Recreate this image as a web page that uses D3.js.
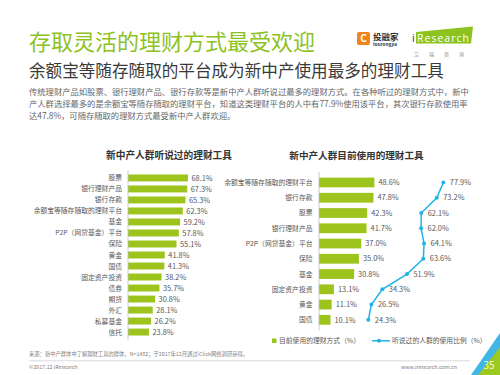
<!DOCTYPE html>
<html>
<head>
<meta charset="utf-8">
<script src="https://cdn.jsdelivr.net/npm/d3@7"></script>
<style>
  body { margin: 0; background: #fff; }
  svg { display: block; font-family: "Noto Sans CJK SC", "Noto Sans", sans-serif; }
</style>
</head>
<body>
<svg id="chart" width="500" height="375"></svg>
<script>
// 听说过的理财工具
const heardTools = ["股票", "银行理财产品", "银行存款", "余额宝等随存随取的理财平台", "基金", "P2P（网贷基金）平台", "保险", "黄金", "国债", "固定资产投资", "债券", "期货", "外汇", "私募基金", "信托"];
const heardValues = [68.1, 67.3, 65.3, 62.3, 59.2, 57.8, 55.1, 41.8, 41.3, 38.2, 35.7, 30.8, 28.1, 26.2, 23.8];

// 目前使用的理财工具
const usedTools = ["余额宝等随存随取的理财平台", "银行存款", "股票", "银行理财产品", "P2P（网贷基金）平台", "保险", "基金", "固定资产投资", "黄金", "国债"];
const usedValues = [48.6, 47.8, 42.3, 41.7, 37.0, 35.0, 30.8, 13.1, 11.1, 10.1];
const usageRate = [77.9, 73.2, 62.1, 62.0, 64.1, 63.6, 51.9, 34.3, 26.5, 24.3];

const paragraph = [
  "传统理财产品如股票、银行理财产品、银行存款等是新中产人群听说过最多的理财方式。在各种听过的理财方式中，新中",
  "产人群选择最多的是余额宝等随存随取的理财平台，知道这类理财平台的人中有77.9%使用该平台，其次银行存款使用率",
  "达47.8%，可随存随取的理财方式最受新中产人群欢迎。"
];

const green = "#9dc41d";
const blue = "#22b3e6";
const grey = "#595959";

const svg = d3.select("#chart");

// 标题
svg.append("text").attr("x", 29).attr("y", 49.5)
  .attr("font-size", 22).attr("fill", "#8dc21f")
  .text("存取灵活的理财方式最受欢迎");
svg.append("text").attr("x", 29).attr("y", 76.5)
  .attr("font-size", 16.6).attr("fill", "#3a3a3a")
  .text("余额宝等随存随取的平台成为新中产使用最多的理财工具");

svg.append("g").selectAll("text").data(paragraph).enter().append("text")
  .attr("x", 29).attr("y", (d, i) => 95 + i * 11.8)
  .attr("font-size", 8.3).attr("fill", "#666")
  .text((d) => d);

// logo
const logo = svg.append("g");
logo.append("rect").attr("x", 357).attr("y", 32).attr("width", 13).attr("height", 13).attr("rx", 2).attr("fill", "#f08519");
logo.append("text").attr("x", 363.5).attr("y", 42.2).attr("text-anchor", "middle").attr("font-size", 10).attr("font-weight", "bold").attr("fill", "#fff").text("C");
logo.append("text").attr("x", 373).attr("y", 40).attr("font-size", 8.5).attr("font-weight", "bold").attr("fill", "#333").text("投融家");
logo.append("text").attr("x", 373).attr("y", 46).attr("font-size", 4.6).attr("font-weight", "bold").attr("fill", "#333").text("tourongjia");
logo.append("polygon").attr("points", "416,32 473,26.5 471,43.5 416,43.5").attr("fill", "#8dc21f");
logo.append("text").attr("x", 412).attr("y", 41.5).attr("font-size", 10.5).attr("fill", "#333").attr("font-family", "Open Sans, sans-serif").text("i");
logo.append("text").attr("x", 417).attr("y", 41.5).attr("font-size", 10.5).attr("fill", "#fff").attr("font-family", "Open Sans, sans-serif").attr("textLength", 52).text("Research");
logo.append("g").selectAll("text").data(["艾", "瑞", "咨", "询"]).enter().append("text")
  .attr("x", (d, i) => 414 + i * 15).attr("y", 56).attr("font-size", 5).attr("fill", "#888").text((d) => d);

// 左图：听说过
const left = svg.append("g");
const yL = d3.scaleBand().domain(heardTools).range([170.4, 339.6]).padding(0.37);
const xL = d3.scaleLinear().domain([0, 100]).range([128, 216]);

left.append("text").attr("x", 169).attr("y", 159).attr("text-anchor", "middle")
  .attr("font-size", 9.7).attr("font-weight", "bold").attr("fill", "#333")
  .text("新中产人群听说过的理财工具");

left.selectAll("rect").data(heardValues).enter().append("rect")
  .attr("x", xL(0)).attr("y", (d, i) => yL(heardTools[i]))
  .attr("width", (d) => xL(d) - xL(0)).attr("height", yL.bandwidth())
  .attr("fill", green);

left.selectAll(".val").data(heardValues).enter().append("text")
  .attr("class", "val")
  .attr("x", (d) => xL(d) + 3.5).attr("y", (d, i) => yL(heardTools[i]) + yL.bandwidth() / 2 + 2.7)
  .attr("font-size", 7.4).attr("fill", grey)
  .text((d) => d.toFixed(1) + "%");

left.selectAll(".cat").data(heardTools).enter().append("text")
  .attr("class", "cat")
  .attr("x", 122).attr("y", (d) => yL(d) + yL.bandwidth() / 2 + 2.5)
  .attr("text-anchor", "end").attr("font-size", 6.8).attr("fill", grey)
  .text((d) => d);

left.append("line").attr("x1", xL(0)).attr("x2", xL(0))
  .attr("y1", 170.4).attr("y2", 339.6).attr("stroke", "#bfbfbf").attr("stroke-width", 0.8);

// 右图：目前使用
const right = svg.append("g");
const yR = d3.scaleBand().domain(usedTools).range([172.1, 330.2]).padding(0.36);
const xR = d3.scaleLinear().domain([0, 100]).range([319, 433]);
const xLine = d3.scaleLinear().domain([0, 100]).range([334.3, 474.3]);

right.append("text").attr("x", 356.5).attr("y", 159).attr("text-anchor", "middle")
  .attr("font-size", 9.6).attr("font-weight", "bold").attr("fill", "#333")
  .text("新中产人群目前使用的理财工具");

right.selectAll("rect").data(usedValues).enter().append("rect")
  .attr("x", xR(0)).attr("y", (d, i) => yR(usedTools[i]))
  .attr("width", (d) => xR(d) - xR(0)).attr("height", yR.bandwidth())
  .attr("fill", green);

right.selectAll(".val").data(usedValues).enter().append("text")
  .attr("class", "val")
  .attr("x", (d) => xR(d) + 4).attr("y", (d, i) => yR(usedTools[i]) + yR.bandwidth() / 2 + 2.7)
  .attr("font-size", 7.4).attr("fill", grey)
  .text((d) => d.toFixed(1) + "%");

right.selectAll(".cat").data(usedTools).enter().append("text")
  .attr("class", "cat")
  .attr("x", 312.5).attr("y", (d) => yR(d) + yR.bandwidth() / 2 + 2.5)
  .attr("text-anchor", "end").attr("font-size", 6.8).attr("fill", grey)
  .text((d) => d);

right.append("line").attr("x1", xR(0)).attr("x2", xR(0))
  .attr("y1", 172.1).attr("y2", 330.2).attr("stroke", "#bfbfbf").attr("stroke-width", 0.8);

const line = d3.line()
  .x((d) => xLine(d))
  .y((d, i) => yR(usedTools[i]) + yR.bandwidth() / 2);

right.append("path").datum(usageRate)
  .attr("d", line).attr("fill", "none").attr("stroke", blue).attr("stroke-width", 1.5);

right.selectAll(".dot").data(usageRate).enter().append("circle")
  .attr("class", "dot")
  .attr("cx", (d) => xLine(d)).attr("cy", (d, i) => yR(usedTools[i]) + yR.bandwidth() / 2)
  .attr("r", 2).attr("fill", blue);

right.selectAll(".rate").data(usageRate).enter().append("text")
  .attr("class", "rate")
  .attr("x", (d) => xLine(d) + 6.5).attr("y", (d, i) => yR(usedTools[i]) + yR.bandwidth() / 2 + 2.7)
  .attr("font-size", 7.4).attr("fill", grey)
  .text((d) => d.toFixed(1) + "%");

// 图例
const legend = svg.append("g");
legend.append("rect").attr("x", 272).attr("y", 338.5).attr("width", 4.5).attr("height", 4.5).attr("fill", green);
legend.append("text").attr("x", 279).attr("y", 343.3).attr("font-size", 6.8).attr("fill", grey).text("目前使用的理财方式（%）");
legend.append("line").attr("x1", 372).attr("x2", 390).attr("y1", 340.8).attr("y2", 340.8).attr("stroke", blue).attr("stroke-width", 1.5);
legend.append("circle").attr("cx", 379).attr("cy", 340.8).attr("r", 2).attr("fill", blue);
legend.append("text").attr("x", 392).attr("y", 343.3).attr("font-size", 6.8).attr("fill", grey).text("听说过的人群的使用比例（%）");

// 页脚
const foot = svg.append("g");
foot.append("text").attr("x", 29).attr("y", 356).attr("font-size", 5.3).attr("fill", "#7f7f7f")
  .text("来源：新中产群体中了解理财工具的群体，N=1482；于2017年12月通过iClick网络调研获得。");
foot.append("line").attr("x1", 29).attr("x2", 470).attr("y1", 360.8).attr("y2", 360.8).attr("stroke", "#bfbfbf").attr("stroke-width", 0.6);
foot.append("text").attr("x", 29).attr("y", 369).attr("font-size", 5.3).attr("fill", "#7f7f7f").text("©2017.12 iResearch");
foot.append("text").attr("x", 457).attr("y", 369).attr("text-anchor", "end").attr("font-size", 5.3).attr("fill", "#7f7f7f").text("www.iresearch.com.cn");

// 角标
foot.append("polygon").attr("points", "500,333 500,375 471,375").attr("fill", "#3fb5e8");
foot.append("polygon").attr("points", "500,347 500,375 478,375").attr("fill", "#9cc81f");
foot.append("text").attr("x", 489).attr("y", 369).attr("text-anchor", "middle").attr("font-size", 10).attr("fill", "#f4f8d0").text("35");
</script>
</body>
</html>
